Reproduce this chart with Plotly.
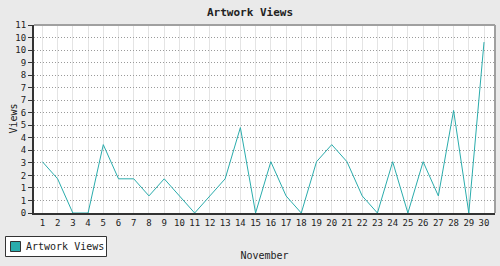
import numpy as np
import plotly.graph_objects as go

days = list(range(1, 31))
views = [3, 2, 0, 0, 4, 2, 2, 1, 2, 1, 0, 1, 2, 5, 0, 3, 1, 0, 3, 4, 3, 1, 0, 3, 0, 3, 1, 6, 0, 10]
title = "Artwork Views"
x_title = "November"
y_title = "Views"
y_max = 11
n_yticks = 16

LINE = "#2aacac"
FONT = "DejaVu Sans Mono, Liberation Mono, monospace"

W, H = 500, 266
ML, MR, MT, MB = 34, 5, 25, 53
PW, PH = W - ML - MR, H - MT - MB


def px(x):  # pixel -> paper x
    return (x - ML) / PW


def py(y):  # pixel -> paper y
    return (H - MB - y) / PH


ytv = list(np.linspace(0, y_max, n_yticks))
ytt = [str(int(round(v + 1e-9))) for v in ytv]

fig = go.Figure()
fig.add_trace(go.Scatter(x=days, y=views, mode="lines", line=dict(color=LINE, width=1),
                         showlegend=False, name=title))

shapes = [
    dict(type="line", xref="paper", yref="paper", x0=0, x1=1, y0=1, y1=1,
         line=dict(color="#a0a0a0", width=2)),
    dict(type="line", xref="paper", yref="paper", x0=1, x1=1, y0=0, y1=1,
         line=dict(color="#a0a0a0", width=2)),
    # legend box
    dict(type="rect", xref="paper", yref="paper", x0=px(5.5), x1=px(106.5), y0=py(236.5), y1=py(256.5),
         fillcolor="#ffffff", line=dict(color="#333333", width=1)),
    # legend swatch
    dict(type="rect", xref="paper", yref="paper", x0=px(10.5), x1=px(20.5), y0=py(241.5), y1=py(251.5),
         fillcolor=LINE, line=dict(color="#333333", width=1)),
]

annotations = [
    dict(text=title, xref="paper", yref="paper", x=px(24), y=py(246.5), xanchor="left", yanchor="middle",
         showarrow=False, font=dict(family=FONT, size=10, color="#222222")),
    dict(text=y_title, xref="paper", yref="paper", x=px(12.5), y=py(119), xanchor="center", yanchor="middle",
         textangle=-90, showarrow=False, font=dict(family=FONT, size=10, color="#222222")),
]

fig.update_layout(
    width=W, height=H,
    margin=dict(l=ML, r=MR, t=MT, b=MB, autoexpand=False),
    paper_bgcolor="#eaeaea",
    plot_bgcolor="#ffffff",
    font=dict(family=FONT, size=9, color="#222222"),
    title=dict(text="<b>" + title + "</b>", x=0.5, xanchor="center", y=0.955, yanchor="middle",
               font=dict(family=FONT, size=11, color="#222222")),
    showlegend=False,
    xaxis=dict(range=[0.45, 30.72], tickvals=days, ticktext=[str(d) for d in days],
               showgrid=True, gridcolor="#e4e4e4", gridwidth=1,
               showline=True, linecolor="#333333", linewidth=2, mirror=False,
               ticks="", zeroline=False, tickfont=dict(size=9),
               title=dict(text=x_title, font=dict(size=10), standoff=25)),
    yaxis=dict(range=[0, y_max], tickvals=ytv, ticktext=ytt,
               showgrid=True, gridcolor="#9a9a9a", griddash="1px,2px", gridwidth=1,
               showline=True, linecolor="#333333", linewidth=2,
               ticks="outside", ticklen=4, tickcolor="#333333",
               zeroline=False, tickfont=dict(size=9)),
    shapes=shapes,
    annotations=annotations,
)

fig.write_html("out.html")
